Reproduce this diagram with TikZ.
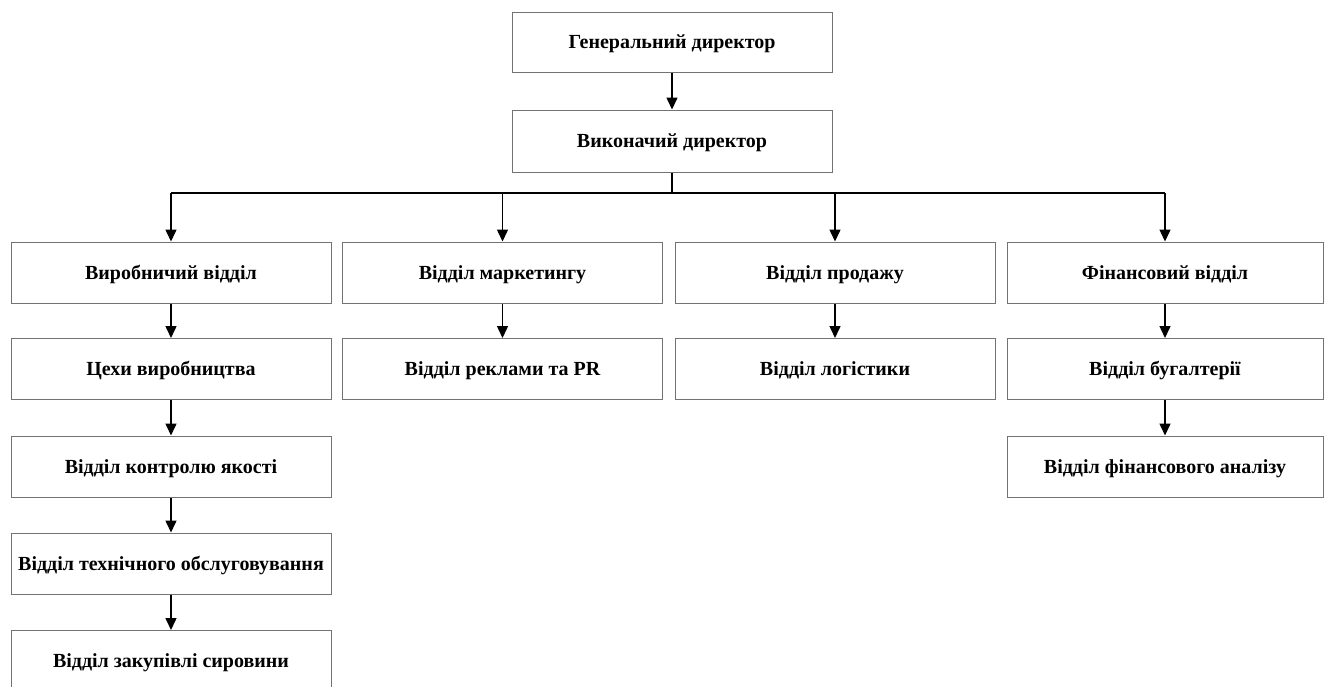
\documentclass[tikz,border=0pt]{standalone}
\usepackage{fontspec}
\setmainfont{Liberation Serif}
\usetikzlibrary{arrows.meta}
\begin{document}
\begin{tikzpicture}[x=1pt,y=-1pt,
  unit/.style={draw=black!55, line width=1pt, fill=white, minimum width=320pt,
    minimum height=61pt, inner sep=0pt, text height=17pt, text depth=3.7pt,
    font=\fontsize{20}{24}\selectfont\bfseries},
  link/.style={draw=black, line width=1.5pt, -{Triangle[length=12pt,width=11pt]}},
  bus/.style={draw=black, line width=1.5pt}]
\clip (0,0) rectangle (1333,686);
\fill[white] (0,0) rectangle (1333,686);
% top management
\node[unit, minimum height=60pt] (gd) at (672,42) {Генеральний директор};
\node[unit, minimum height=62pt] (vd) at (672,141) {Виконачий директор};
% departments
\node[unit] (vyr) at (171,272.5) {Виробничий відділ};
\node[unit] (mark) at (502.5,272.5) {Відділ маркетингу};
\node[unit] (prod) at (835,272.5) {Відділ продажу};
\node[unit, minimum width=316pt] (fin) at (1165,272.5) {Фінансовий відділ};
% production chain
\node[unit] (tsekh) at (171,369) {Цехи виробництва};
\node[unit] (yak) at (171,466.5) {Відділ контролю якості};
\node[unit] (tekh) at (171,563.5) {Відділ технічного обслуговування};
\node[unit] (zak) at (171,661) {Відділ закупівлі сировини};
% other sub-units
\node[unit] (pr) at (502.5,369) {Відділ реклами та PR};
\node[unit] (log) at (835,369) {Відділ логістики};
\node[unit, minimum width=316pt] (buh) at (1165,369) {Відділ бугалтерії};
\node[unit, minimum width=316pt] (anal) at (1165,466.5) {Відділ фінансового аналізу};
% connectors
\coordinate (bus) at (672,193);
\draw[link] (gd) -- (vd);
\draw[bus] (vd.south) -- (bus);
\draw[bus] (vyr.north |- bus) -- (fin.north |- bus);
\foreach \d in {vyr,mark,prod,fin}
  \draw[link] (\d.north |- bus) -- (\d.north);
\draw[link] (vyr) -- (tsekh);
\draw[link] (tsekh) -- (yak);
\draw[link] (yak) -- (tekh);
\draw[link] (tekh) -- (zak);
\draw[link] (mark) -- (pr);
\draw[link] (prod) -- (log);
\draw[link] (fin) -- (buh);
\draw[link] (buh) -- (anal);
\end{tikzpicture}
\end{document}
